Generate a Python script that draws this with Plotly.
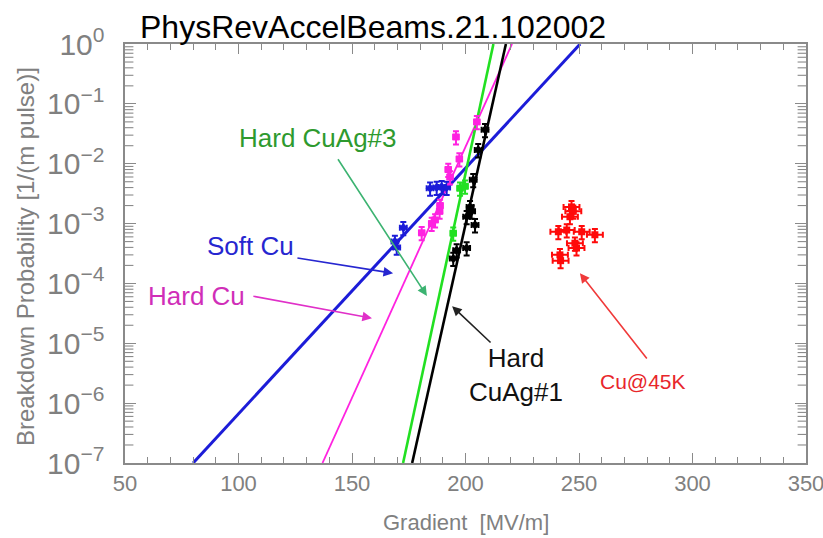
import plotly.graph_objects as go

# ---- measured breakdown probabilities [1/(m pulse)] vs gradient [MV/m] ----
soft_cu_x = [168.9, 169.7, 172.6, 184.4, 187.3, 189.5, 191.7]
soft_cu_y = [5.0e-4, 4.0e-4, 8.5e-4, 3.9e-3, 4.0e-3, 4.1e-3, 4.0e-3]

hard_cu_x = [205.0, 195.8, 197.3, 192.4, 193.2, 188.8, 188.6, 186.6, 185.1, 180.7]
hard_cu_y = [5.0e-2, 2.8e-2, 1.2e-2, 8.0e-3, 6.0e-3, 2.0e-3, 1.6e-3, 1.15e-3, 1.0e-3, 7.0e-4]

cuag3_x = [197.6, 199.8, 194.6]
cuag3_y = [3.9e-3, 4.2e-3, 6.9e-4]

cuag1_x = [208.6, 205.6, 203.4, 202.0, 202.7, 204.2, 200.5, 200.5, 196.1, 194.6]
cuag1_y = [3.7e-2, 1.7e-2, 5.4e-3, 1.9e-3, 1.6e-3, 9.5e-4, 1.3e-3, 3.9e-4, 3.6e-4, 2.6e-4]

cu45k_x = [246.7, 247.5, 246.0, 240.9, 244.6, 251.2, 257.0, 248.2, 248.9, 241.6, 241.9]
cu45k_y = [1.9e-3, 1.6e-3, 1.3e-3, 7.3e-4, 7.8e-4, 7.3e-4, 6.5e-4, 4.7e-4, 3.9e-4, 3.0e-4, 2.4e-4]

# ---- exponential fits (end points of each fitted line) ----
soft_cu_fit_x = [80.0, 250.5]
soft_cu_fit_y = [1e-7, 1.0]
hard_cu_fit_x = [137.0, 220.5]
hard_cu_fit_y = [1e-7, 1.0]
cuag3_fit_x = [172.5, 212.3]
cuag3_fit_y = [1e-7, 1.0]
cuag1_fit_x = [176.5, 217.8]
cuag1_fit_y = [1e-7, 1.0]

# ---- axes ----
x_range = [50, 350]
x_ticks = [50, 100, 150, 200, 250, 300, 350]
y_minor = [m * 10.0 ** e for e in range(-7, 0) for m in range(2, 10)]

BLUE = "#1c1cd8"
MAGENTA = "#ff22e0"
GREEN = "#22e022"
BLACK = "#000000"
RED = "#ff0a0a"
AXIS = "#8a8a8a"
FONT = "Liberation Sans, Arial, sans-serif"

fig = go.Figure()

# minor log ticks on the left and right frame edges (half of each mark is
# clipped by the plot area, leaving a short inward tick)
for edge in x_range:
    fig.add_trace(go.Scatter(
        x=[edge] * len(y_minor), y=y_minor, mode="markers", cliponaxis=True,
        marker=dict(symbol="line-ew", size=12,
                    line=dict(color=AXIS, width=1.1)),
        showlegend=False, hoverinfo="skip"))

for fx, fy, col, w in [
    (soft_cu_fit_x, soft_cu_fit_y, BLUE, 3),
    (hard_cu_fit_x, hard_cu_fit_y, MAGENTA, 1.8),
    (cuag3_fit_x, cuag3_fit_y, GREEN, 2.6),
    (cuag1_fit_x, cuag1_fit_y, BLACK, 2.6),
]:
    fig.add_trace(go.Scatter(x=fx, y=fy, mode="lines",
                             line=dict(color=col, width=w),
                             showlegend=False, hoverinfo="skip"))

for px, py, col, sym, ex in [
    (soft_cu_x, soft_cu_y, BLUE, "diamond", 1.5),
    (hard_cu_x, hard_cu_y, MAGENTA, "square", 1.2),
    (cuag3_x, cuag3_y, GREEN, "square", 1.2),
    (cuag1_x, cuag1_y, BLACK, "diamond", 1.5),
    (cu45k_x, cu45k_y, RED, "square", 3.5),
]:
    fig.add_trace(go.Scatter(
        x=px, y=py, mode="markers",
        marker=dict(color=col, size=7, symbol=sym),
        error_x=dict(type="constant", value=ex, color=col, thickness=2, width=3),
        error_y=dict(type="percent", value=25, color=col, thickness=2, width=3),
        showlegend=False))

axis_common = dict(
    showline=True, linecolor=AXIS, linewidth=1.5, mirror="allticks",
    ticks="inside", tickcolor=AXIS, tickwidth=1.2, automargin=False,
    showgrid=False, zeroline=False, ticklabeloverflow="allow",
)

fig.update_layout(
    xaxis=dict(range=x_range, tickmode="array", tickvals=x_ticks, ticklen=10,
               tickfont=dict(family=FONT, size=22, color="#808080"),
               minor=dict(dtick=10, ticks="inside", ticklen=6,
                          tickcolor=AXIS, showgrid=False),
               **axis_common),
    yaxis=dict(type="log", range=[-7, 0], tickmode="linear", tick0=0, dtick=1,
               exponentformat="power", showexponent="all",
               labelalias={"1": "10<sup>0</sup>"},
               ticklen=11, ticklabelstandoff=14,
               tickfont=dict(family=FONT, size=24, color="#808080"),
               **axis_common),
)

annotations = [
    dict(text="PhysRevAccelBeams.21.102002", xref="paper", yref="paper",
         x=0.364, y=1.0, xanchor="center", yanchor="bottom", yshift=-3,
         showarrow=False, font=dict(family=FONT, size=32, color="black")),
    dict(text="Breakdown Probability [1/(m pulse)]", xref="paper", yref="paper",
         x=-0.146, y=0.493, xanchor="center", yanchor="middle", textangle=-90,
         showarrow=False, font=dict(family=FONT, size=24, color="#808080")),
    dict(text="Gradient  [MV/m]", xref="paper", yref="paper",
         x=0.50, y=-0.143, xanchor="center", yanchor="middle",
         showarrow=False, font=dict(family=FONT, size=22, color="#808080")),
]

labels = [
    ("Hard CuAg#3", 135.0, -1.57, "#2e9a2e", 26),
    ("Soft Cu", 105.1, -3.37, "#2626d0", 26),
    ("Hard Cu", 81.3, -4.21, "#d02eb8", 26),
    ("Hard<br>CuAg#1", 222.2, -5.53, "#111111", 26),
    ("Cu@45K", 278.2, -5.63, "#e8262b", 21),
]
for t, x, y, c, s in labels:
    annotations.append(dict(text=t, x=x, y=y, xref="x", yref="y",
                            showarrow=False, align="center",
                            font=dict(family=FONT, size=s, color=c)))

arrows = [
    (143.4, -1.90, 183.0, -4.21, "#3cb371"),
    (125.3, -3.57, 168.1, -3.83, "#2626d0"),
    (105.9, -4.21, 158.8, -4.58, "#e030c8"),
    (211.7, -5.01, 194.1, -4.38, "#222222"),
    (280.4, -5.28, 250.4, -3.83, "#f03a3a"),
]
for x0, y0, x1, y1, c in arrows:
    annotations.append(dict(text="", x=x1, y=y1, ax=x0, ay=y0,
                            xref="x", yref="y", axref="x", ayref="y",
                            showarrow=True, arrowhead=2, arrowsize=1.2,
                            arrowwidth=1.6, arrowcolor=c))

fig.update_layout(
    width=823, height=538,
    margin=dict(l=125, r=17, t=44, b=75, autoexpand=False),
    paper_bgcolor="white", plot_bgcolor="white",
    annotations=annotations,
)

fig.write_html("out.html")
